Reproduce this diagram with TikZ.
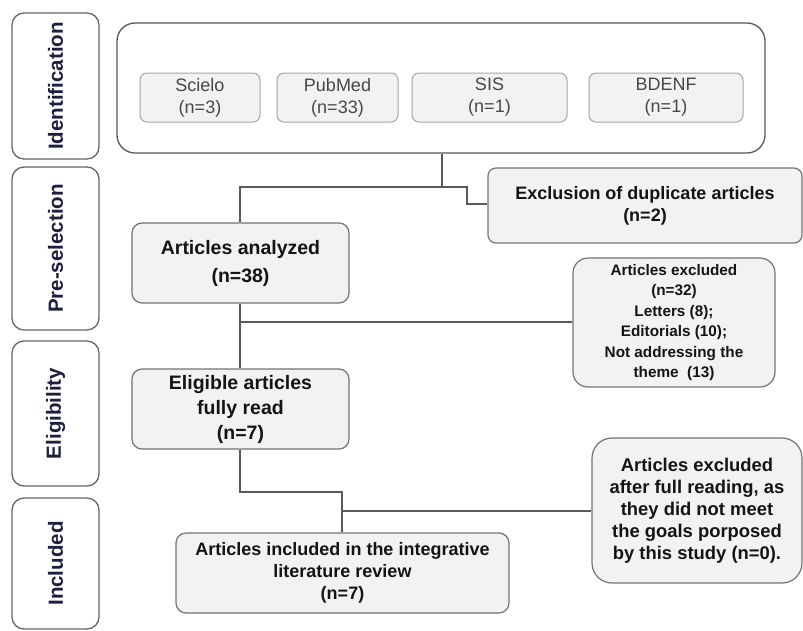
\documentclass[tikz,border=0pt]{standalone}
\usepackage{fontspec}
\setmainfont{Liberation Sans}
\begin{document}
\begin{tikzpicture}[x=1pt,y=-1pt,
  phase/.style={draw=black!60, line width=1.3pt, fill=white, rounded corners=12pt, inner sep=0pt,
    minimum width=87pt, text=phasecol, font=\bfseries\fontsize{20.5}{22}\selectfont},
  srcbox/.style={draw=black!35, line width=1pt, fill=black!5, rounded corners=7pt, inner sep=0pt,
    align=center, text=black!72, font=\fontsize{18}{22}\selectfont, minimum height=49pt},
  mainbox/.style={draw=black!55, line width=1.2pt, fill=black!5, rounded corners=10pt, inner sep=0pt,
    align=center, text=black!92, font=\bfseries\fontsize{18}{22}\selectfont},
  conn/.style={draw=black!65, line width=1.2pt}
]
\definecolor{phasecol}{HTML}{1E1E40}
\useasboundingbox (0,0) rectangle (803,630);
\fill[white] (0,0) rectangle (803,630);

% phase labels
\node[phase, minimum height=146pt] (pid) at (55.5,86) {\rotatebox{90}{Identification}};
\node[phase, minimum height=163pt] (ppre) at (55.5,248.5) {\rotatebox{90}{Pre-selection}};
\node[phase, minimum height=145pt] (pelig) at (55.5,413.5) {\rotatebox{90}{Eligibility}};
\node[phase, minimum height=131pt] (pinc) at (55.5,563.5) {\rotatebox{90}{Included}};

% identification container
\node[draw=black!65, line width=1.3pt, fill=white, rounded corners=18pt, minimum width=648pt, minimum height=130pt, inner sep=0pt] (cont) at (441,88) {};

% sources
\node[srcbox, minimum width=120pt] (scielo) at (200,97.5) {Scielo\\(n=3)};
\node[srcbox, minimum width=121pt] (pubmed) at (337.5,97.5) {PubMed\\(n=33)};
\node[srcbox, minimum width=155pt] (sis) at (489.5,97.5) {SIS\\(n=1)};
\node[srcbox, minimum width=154pt] (bdenf) at (666,97.5) {BDENF\\(n=1)};

% main boxes
\node[mainbox, minimum width=314pt, minimum height=75pt, rounded corners=8pt] (dup) at (645,205.5) {Exclusion of duplicate articles\\(n=2)};
\node[mainbox, minimum width=217pt, minimum height=80pt, font=\bfseries\fontsize{19.5}{28}\selectfont] (anal) at (240.5,263) {Articles analyzed\\(n=38)};
\node[mainbox, minimum width=202pt, minimum height=129pt, rounded corners=15pt, font=\bfseries\fontsize{15.3}{20.4}\selectfont] (ex32) at (674,322.5) {Articles excluded\\(n=32)\\Letters (8);\\Editorials (10);\\Not addressing the\\theme~ (13)};
\node[mainbox, minimum width=217pt, minimum height=80pt, font=\bfseries\fontsize{19.5}{25}\selectfont] (elig) at (240.5,409) {Eligible articles\\fully read\\(n=7)};
\node[mainbox, minimum width=210pt, minimum height=145pt, rounded corners=20pt, font=\bfseries\fontsize{18.4}{22}\selectfont] (ex0) at (697,510.5) {Articles excluded\\after full reading, as\\they did not meet\\the goals porposed\\by this study (n=0).};
\node[mainbox, minimum width=333pt, minimum height=80pt] (incl) at (342.5,573) {Articles included in the integrative\\literature review\\(n=7)};

% junction coordinates
\coordinate (j1) at (442,187);
\coordinate (j2) at (240,322);
\coordinate (j3) at (342,511);

% connectors
\draw[conn] (cont.south -| j1) -- (j1) -| (anal.north -| j2);
\draw[conn] (j1) -- (467,187) |- (dup.west |- 0,204);
\draw[conn] (anal.south -| j2) -- (elig.north -| j2);
\draw[conn] (j2) -- (ex32.west |- j2);
\draw[conn] (elig.south -| j2) -- (240,492) -| (incl.north -| j3);
\draw[conn] (j3) -- (ex0.west |- j3);
\end{tikzpicture}
\end{document}
